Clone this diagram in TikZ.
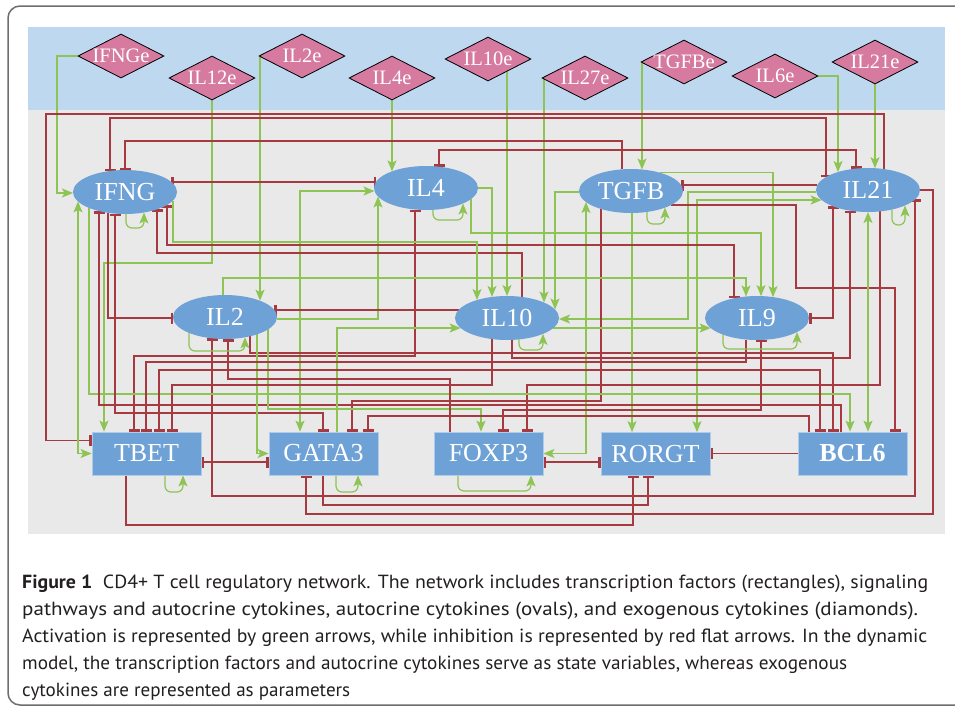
\documentclass[tikz,border=0pt]{standalone}
\usepackage{fontspec}
\setmainfont{Liberation Serif}
\newfontfamily\capfont{PT Sans}
\usetikzlibrary{shapes.geometric,arrows.meta,calc}
\pgfdeclarelayer{back}\pgfdeclarelayer{wires}
\pgfsetlayers{back,wires,main}
\definecolor{inhc}{RGB}{166,58,64}
\definecolor{actc}{RGB}{141,196,84}
\definecolor{nodeb}{RGB}{110,161,214}
\definecolor{rectb}{RGB}{175,203,234}
\definecolor{diaf}{RGB}{214,122,160}
\definecolor{bandb}{RGB}{190,216,240}
\definecolor{greyb}{RGB}{233,233,233}
\definecolor{framec}{RGB}{110,110,110}
\definecolor{capc}{RGB}{35,31,32}
\tikzset{
  oval/.style={ellipse, fill=nodeb, minimum width=104pt, minimum height=44pt, inner sep=0pt, text=white, font=\fontsize{26}{26}\selectfont},
  tf/.style={rectangle, fill=nodeb, draw=rectb, line width=0.8pt, minimum width=109pt, minimum height=43pt, inner sep=0pt, text=white, font=\fontsize{26}{26}\selectfont},
  exo/.style={diamond, fill=diaf, draw=black, line width=0.8pt, minimum width=86pt, minimum height=44pt, inner sep=0pt, text=white, font=\fontsize{20.5}{20.5}\selectfont},
  act/.style={draw=actc, line width=1.2pt, -{Stealth[length=11pt,width=9pt,inset=2.5pt]}},
  actb/.style={draw=actc, line width=1.2pt, {Stealth[length=11pt,width=9pt,inset=2.5pt]}-{Stealth[length=11pt,width=9pt,inset=2.5pt]}},
  inh/.style={draw=inhc, line width=1.2pt, -{Bar[width=11pt,line width=2.5pt]}},
  inhb/.style={draw=inhc, line width=1.2pt, {Bar[width=11pt,line width=2.5pt]}-{Bar[width=11pt,line width=2.5pt]}},
  selfloop/.style={act, rounded corners=6pt},
  capline/.style={anchor=base west, inner sep=0pt, text=capc, font=\capfont\fontsize{19}{19}\selectfont}
}
\begin{document}
\begin{tikzpicture}[x=1pt,y=-1pt]
\useasboundingbox (0,0) rectangle (955,710);
\clip (0,0) rectangle (955,710);
% ---------- nodes ----------
\node[exo] (IFNGe) at (121,56) {\makebox[0pt]{IFNGe}};
\node[exo] (IL12e) at (212,78) {\makebox[0pt]{IL12e}};
\node[exo] (IL2e)  at (302,56) {\makebox[0pt]{IL2e}};
\node[exo] (IL4e)  at (392,78) {\makebox[0pt]{IL4e}};
\node[exo] (IL10e) at (488,59) {\makebox[0pt]{IL10e}};
\node[exo] (IL27e) at (585,78) {\makebox[0pt]{IL27e}};
\node[exo] (TGFBe) at (684,62) {\makebox[0pt]{TGFBe}};
\node[exo] (IL6e)  at (775,76) {\makebox[0pt]{IL6e}};
\node[exo] (IL21e) at (875,62) {\makebox[0pt]{IL21e}};

\node[oval] (IFNG) at (125,192) {IFNG};
\node[oval] (IL4)  at (426,188) {IL4};
\node[oval] (TGFB) at (631,191) {TGFB};
\node[oval] (IL21) at (868,190) {IL21};
\node[oval] (IL2)  at (225,317) {IL2};
\node[oval] (IL10) at (507,318) {IL10};
\node[oval] (IL9)  at (757,318) {IL9};

\node[tf] (TBET)  at (146.5,453.5) {TBET};
\node[tf] (GATA3) at (323.5,453.5) {GATA3};
\node[tf] (FOXP3) at (488.5,453.5) {FOXP3};
\node[tf] (RORGT) at (655.5,454) {RORGT};
\node[tf] (BCL6)  at (852.5,453.5) {\textbf{BCL6}};

\node[capline] (cap1) at (22,588) {\resizebox{906pt}{\height}{\textbf{Figure 1}\ \ CD4+ T cell regulatory network. The network includes transcription factors (rectangles), signaling}};
\node[capline] (cap2) at (22,615) {\resizebox{896pt}{\height}{pathways and autocrine cytokines, autocrine cytokines (ovals), and exogenous cytokines (diamonds).}};
\node[capline] (cap3) at (22,642) {\resizebox{905pt}{\height}{Activation is represented by green arrows, while inhibition is represented by red flat arrows. In the dynamic}};
\node[capline] (cap4) at (22,669) {\resizebox{825pt}{\height}{model, the transcription factors and autocrine cytokines serve as state variables, whereas exogenous}};
\node[capline] (cap5) at (22,696) {\resizebox{328pt}{\height}{cytokines are represented as parameters}};

% ---------- background ----------
\begin{pgfonlayer}{back}
\fill[white] (0,0) rectangle (955,710);
\draw[framec, line width=1.5pt, rounded corners=12pt] (8,6) rectangle (985,705);
\fill[greyb] (28,110) rectangle (945,534);
\fill[bandb] (28,27) rectangle (945,110);
\end{pgfonlayer}

% ---------- wires ----------
\begin{pgfonlayer}{wires}
% exogenous inputs
\draw[act] (IFNGe.west) -| (57,193) -- ($(IFNG.center)+(-52,1)$);
\draw[act] (IL12e.south) |- (104,263) -- ($(TBET.north)+(-42.5,0)$);
\draw[act] (IL2e.west) -| ($(IL2.center)+(35,-16.3)$);
\draw[act] (IL4e.south) -- ($(IL4.center)+(-34,-16.6)$);
\draw[act] ($(IL10e.center)+(19,12)$) -- ($(IL10.center)+(0,-22)$);
\draw[act] (IL27e.west) -| ($(IL10.center)+(37,-15.5)$);
\draw[act] (TGFBe.west) -| ($(TGFB.center)+(11,-21.5)$);
\draw[act] (IL6e.east) -| ($(IL21.center)+(-30,-18)$);
\draw[act] (IL21e.south) -- ($(IL21.center)+(7,-21.8)$);

% top long lines
\draw[inh] ($(IL21.center)+(16,-21)$) |- (46,114) |- ($(TBET.west)+(0,-13)$);
\draw[inhb] ($(IFNG.center)+(-15,-21)$) |- (826,118) -- ($(IL21.center)+(-42,-13)$);
\draw[inh] ($(TGFB.center)+(-9,-22)$) |- (125,141) -- ($(IFNG.center)+(0,-22)$);
\draw[inhb] ($(IL4.center)+(13,-21.3)$) |- (856,150) -- ($(IL21.center)+(-12,-21.4)$);

% IFNG / IL4 band
\draw[inhb] ($(IFNG.center)+(46.3,-10)$) -- ($(IL4.center)+(-50,-6)$);
\draw[actb] ($(GATA3.north)+(-23.5,0)$) |- ($(IL4.center)+(-51.5,3)$);
\draw[act] ($(IL2.center)+(51.8,2)$) -| ($(IL4.center)+(-48,8.5)$);
\draw[inhb] ($(IL4.center)+(-11,21.5)$) |- (134,356) -- ($(TBET.north)+(-12.5,0)$);
\draw[inh] ($(IL2.center)+(25,19.3)$) |- (833,353) -- ($(BCL6.north)+(-19.5,0)$);
\draw[act] ($(IL4.center)+(52,0)$) -| ($(IL10.center)+(-15,-21.1)$);
\draw[act] ($(IL4.center)+(45,11)$) |- (761,233) -- ($(IL9.center)+(4,-21.9)$);

% TGFB
\draw[act] ($(TGFB.center)+(-52,1)$) -| ($(IL10.center)+(48,-8.5)$);
\draw[actb] (FOXP3.east) -| ($(TGFB.center)+(-45,11)$);
\draw[act] ($(TGFB.center)+(29,-18.3)$) -| ($(IL9.center)+(16,-20.9)$);
\draw[inh] ($(IL21.center)+(-50.6,-5)$) -- ($(TGFB.center)+(50,-6)$);
\draw[act] ($(IL21.center)+(-51.8,2)$) -| (688,319) -- ($(IL10.center)+(52,1)$);
\draw[actb] ($(RORGT.north)+(41.5,0)$) |- ($(IL21.center)+(-46.3,10)$);
\draw[inh] ($(TGFB.center)+(40,14)$) -- (796,205) |- (895,288) -- ($(BCL6.north)+(42.5,0)$);
\draw[inh] ($(TGFB.center)+(-30,18)$) |- (352,401) -- ($(GATA3.north)+(28.5,0)$);
\draw[act] ($(TGFB.center)+(1,22)$) -- ($(RORGT.north)+(-23.5,0)$);

% IL21 bottom / right
\draw[inhb] ($(IL21.center)+(-35,16.3)$) |- ($(IL9.center)+(52,0)$);
\draw[inh] ($(IL10.center)+(5,21.9)$) |- (850,358) -- ($(IL21.center)+(-18,20.6)$);
\draw[actb] ($(IL21.center)+(0,22)$) -- ($(BCL6.north)+(15.5,0)$);
\draw[inh] ($(IL21.center)+(12,21.4)$) |- (527,385) -- ($(FOXP3.north)+(38.5,0)$);
\draw[inhb] ($(IL21.center)+(47,9.4)$) |- (212,496) -- ($(IL2.center)+(-13,21.3)$);
\draw[inh] ($(IL21.center)+(52,0)$) -| (933,514) -| ($(GATA3.south)+(-17.5,0)$);

% IFNG bottom
\draw[actb] ($(IFNG.center)+(-47,9.4)$) |- (TBET.west);
\draw[act] ($(IFNG.center)+(-36,15.9)$) |- (850,394) -- ($(BCL6.north)+(-2.5,0)$);
\draw[inh] ($(BCL6.north)+(-11.5,0)$) |- (99,405) -- ($(IFNG.center)+(-26,19.1)$);
\draw[inh] ($(IFNG.center)+(-17,20.8)$) |- ($(IL2.center)+(-51.9,1)$);
\draw[inhb] ($(IFNG.center)+(-10,21.6)$) |- (323,413) -- ($(GATA3.north)+(-0.5,0)$);
\draw[inh] ($(IL10.center)+(15,-21.1)$) |- (157,253) -- ($(IFNG.center)+(32,17.3)$);
\draw[inhb] ($(IFNG.center)+(42,13)$) |- (734,245) -- ($(IL9.center)+(-23,-19.7)$);
\draw[act] ($(IFNG.center)+(48,8.5)$) |- (477,242) -- ($(IL10.center)+(-30,-18)$);

% IL2 / IL10 / IL9
\draw[act] ($(IL2.center)+(-2,-22)$) |- (746,278) -- ($(IL9.center)+(-11,-21.5)$);
\draw[act] ($(IL10.center)+(46.3,10)$) -- ($(IL9.center)+(-46.3,10)$);
\draw[inh] ($(IL10.center)+(-48.4,-8)$) -- ($(IL2.center)+(49.3,-7)$);
\draw[act] ($(GATA3.north)+(13.5,0)$) |- ($(IL10.center)+(-46.3,10)$);
\draw[act] ($(IL2.center)+(32,17.3)$) |- (GATA3.west);
\draw[act] ($(IL2.center)+(43,12.4)$) |- (481,409) -- ($(FOXP3.north)+(-7.5,0)$);
\draw[inh] ($(FOXP3.north)+(-38.5,0)$) |- (228,379) -- ($(IL2.center)+(3,22)$);
\draw[inh] ($(IL10.center)+(-15,21.1)$) |- (172,385) -- ($(TBET.north)+(25.5,0)$);
\draw[inh] ($(IL9.center)+(-11,21.5)$) |- (146,362) -- ($(TBET.north)+(-0.5,0)$);
\draw[inhb] ($(BCL6.north)+(-32.5,0)$) |- (159,370) -- ($(TBET.north)+(12.5,0)$);
\draw[inh] ($(BCL6.north)+(-43.5,0)$) |- (368,416) -- ($(GATA3.north)+(44.5,0)$);
\draw[inhb] ($(IL9.center)+(4,21.9)$) |- (503,410) -- ($(FOXP3.north)+(14.5,0)$);

% bottom row
\draw[inhb] ($(TBET.east)+(0,8.5)$) -- ($(GATA3.west)+(0,8.5)$);
\draw[inhb] ($(FOXP3.east)+(0,8.5)$) -- ($(RORGT.west)+(0,8)$);
\draw[inh] (BCL6.west) -- ($(RORGT.east)+(0,-0.5)$);
\draw[inh] ($(TBET.south)+(-20.5,0)$) |- (633,525) -- ($(RORGT.south)+(-22.5,0)$);
\draw[inh] ($(GATA3.south)+(-0.5,0)$) |- (648,505) -- ($(RORGT.south)+(-7.5,0)$);

% self loops
\draw[selfloop] ($(IFNG.center)+(1,22)$) |- (144,228) -- ($(IFNG.center)+(19,20.5)$);
\draw[selfloop] ($(IL4.center)+(7,21.8)$) |- (463,220) -- ($(IL4.center)+(37,15.5)$);
\draw[selfloop] ($(TGFB.center)+(16,20.9)$) |- (665,224) -- ($(TGFB.center)+(34,16.6)$);
\draw[selfloop] ($(IL21.center)+(24,19.5)$) |- (905,225) -- ($(IL21.center)+(37,15.5)$);
\draw[selfloop] ($(IL2.center)+(-36,15.9)$) |- (245,351) -- ($(IL2.center)+(20,20.3)$);
\draw[selfloop] ($(IL10.center)+(12,21.4)$) |- (543,350) -- ($(IL10.center)+(36,15.9)$);
\draw[selfloop] ($(IL9.center)+(-34,16.6)$) |- (797,349) -- ($(IL9.center)+(40,14.1)$);
\draw[selfloop] ($(TBET.south)+(18.5,0)$) |- (183,492) -- ($(TBET.south)+(36.5,0)$);
\draw[selfloop] ($(GATA3.south)+(12.5,0)$) |- (358,492) -- ($(GATA3.south)+(34.5,0)$);
\draw[selfloop] ($(FOXP3.south)+(-30.5,0)$) |- (531,491) -- ($(FOXP3.south)+(42.5,0)$);
\end{pgfonlayer}
\end{tikzpicture}
\end{document}
